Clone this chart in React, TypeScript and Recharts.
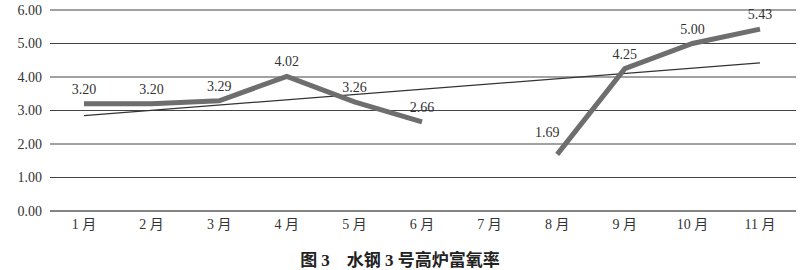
import { LineChart, Line, XAxis, YAxis, CartesianGrid, LabelList } from 'recharts'

const months = ['1 月', '2 月', '3 月', '4 月', '5 月', '6 月', '7 月', '8 月', '9 月', '10 月', '11 月']
const oxygenRate: (number | null)[] = [3.2, 3.2, 3.29, 4.02, 3.26, 2.66, null, 1.69, 4.25, 5.0, 5.43]
// trend line at its two ends
const trend: (number | null)[] = [2.85, null, null, null, null, null, null, null, null, null, 4.42]
const yTicks = [0, 1, 2, 3, 4, 5, 6]

const data = months.map((m, i) => ({ month: m, rate: oxygenRate[i], trend: trend[i] }))

const FONT = '"Liberation Serif", "Noto Sans CJK SC", serif'

function ValueLabel(props: any) {
  const { x, y, value, index } = props
  if (value == null) return null
  // the lone point after the gap has its label nudged up-left, clear of the rising line
  const afterGap = index > 0 && oxygenRate[index - 1] == null
  return (
    <text
      x={x + (afterGap ? -10 : 0)}
      y={y - (afterGap ? 17 : 10)}
      textAnchor="middle"
      fill="#333"
      fontSize={14}
      fontFamily={FONT}
    >
      {Number(value).toFixed(2)}
    </text>
  )
}

export default function App() {
  return (
    <div style={{ position: 'absolute', left: 0, top: 0, width: 800, height: 270, background: '#fff' }}>
      <LineChart width={800} height={240} data={data} margin={{ top: 10, right: 4, left: 0, bottom: 0 }}>
        <CartesianGrid vertical={false} stroke="#444" strokeWidth={1} />
        <XAxis
          dataKey="month"
          axisLine={{ stroke: '#666' }}
          tickLine={false}
          padding={{ left: 34, right: 36 }}
          tick={{ fill: '#333', fontSize: 14, fontFamily: FONT }}
          height={29}
        />
        <YAxis
          domain={[0, 6]}
          ticks={yTicks}
          width={50}
          axisLine={false}
          tickLine={false}
          tickFormatter={(v) => Number(v).toFixed(2)}
          tick={{ fill: '#333', fontSize: 14, fontFamily: FONT }}
        />
        <Line
          dataKey="trend"
          stroke="#333"
          strokeWidth={1.3}
          dot={false}
          connectNulls
          isAnimationActive={false}
        />
        <Line
          dataKey="rate"
          stroke="#6e6e6e"
          strokeWidth={5}
          dot={false}
          isAnimationActive={false}
        >
          <LabelList dataKey="rate" content={ValueLabel} />
        </Line>
      </LineChart>
      <div
        style={{
          position: 'absolute',
          left: 0,
          top: 246,
          width: 800,
          textAlign: 'center',
          fontFamily: FONT,
          fontWeight: 'bold',
          fontSize: 17,
          color: '#222',
          whiteSpace: 'pre',
        }}
      >
        图 3　水钢 3 号高炉富氧率
      </div>
    </div>
  )
}
